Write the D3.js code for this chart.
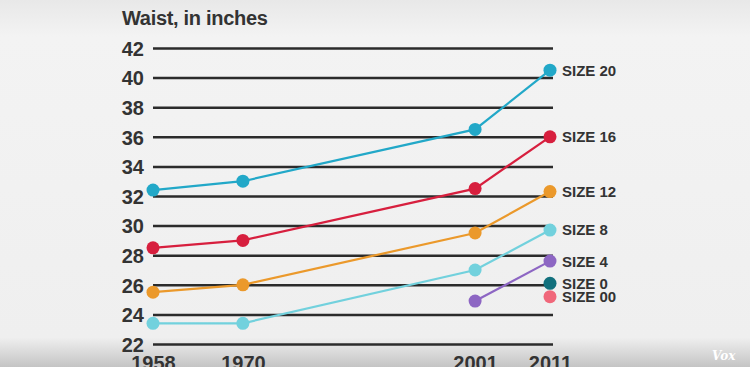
<!DOCTYPE html>
<html>
<head>
<meta charset="utf-8">
<script src="https://cdn.jsdelivr.net/npm/d3@7"></script>
<style>
  body { margin: 0; background: #efefef; }
  svg { display: block; font-family: "Liberation Sans", Arial, sans-serif; }
</style>
</head>
<body>
<div id="chart"></div>
<script>
// waist sizes over the years, in inches
const years = [1958, 1970, 2001, 2011];
const size20 = [32.4, 33.0, 36.5, 40.5];
const size16 = [28.5, 29.0, 32.5, 36.0];
const size12 = [25.5, 26.0, 29.5, 32.3];
const size8 = [23.4, 23.4, 27.0, 29.7];
const size4 = [null, null, 24.9, 27.6];
const size0 = [null, null, null, 26.1];
const size00 = [null, null, null, 25.2];
const yTicks = [22, 24, 26, 28, 30, 32, 34, 36, 38, 40, 42];

const series = [
    { name: 'SIZE 20', values: size20, color: '#22a8c8' },
    { name: 'SIZE 16', values: size16, color: '#d71f3e' },
    { name: 'SIZE 12', values: size12, color: '#eb992b' },
    { name: 'SIZE 8', values: size8, color: '#72d1dd' },
    { name: 'SIZE 4', values: size4, color: '#8d66c3' },
    { name: 'SIZE 0', values: size0, color: '#12707d' },
    { name: 'SIZE 00', values: size00, color: '#f0677a' }
];

const width = 750, height = 367;

const svg = d3.select('#chart')
    .append('svg')
    .attr('width', width)
    .attr('height', height);

// paper-ish background, darker towards the bottom edge
const defs = svg.append('defs');
const grad = defs.append('linearGradient')
    .attr('id', 'bg')
    .attr('x1', 0).attr('y1', 0).attr('x2', 0).attr('y2', 1);
grad.append('stop').attr('offset', '0%').attr('stop-color', '#e8e8e8');
grad.append('stop').attr('offset', '10%').attr('stop-color', '#f3f3f3');
grad.append('stop').attr('offset', '92%').attr('stop-color', '#efefef');
grad.append('stop').attr('offset', '100%').attr('stop-color', '#c4c4c4');
svg.append('rect').attr('width', width).attr('height', height).attr('fill', 'url(#bg)');

const x = d3.scaleLinear().domain([1958, 2011]).range([153, 550]);
const y = d3.scaleLinear().domain([22, 42]).range([344, 48]);

// gridlines + y labels
const yAxis = d3.axisLeft(y)
    .tickValues(yTicks)
    .tickSize(-400)
    .tickPadding(10);

const gy = svg.append('g')
    .attr('transform', 'translate(153,0)')
    .call(yAxis);
gy.select('.domain').remove();
gy.selectAll('.tick line')
    .attr('x1', 0).attr('x2', 400)
    .attr('stroke', '#2b2b2b')
    .attr('stroke-width', 2.5);
gy.selectAll('.tick text')
    .attr('x', -9)
    .attr('dy', '0.36em')
    .attr('fill', '#333')
    .style('font-size', '20px')
    .style('font-weight', 'bold');

// x labels (cut off by the bottom edge, as in the reference)
const xAxis = d3.axisBottom(x)
    .tickValues(years)
    .tickFormat(d3.format('d'))
    .tickSize(0)
    .tickPadding(0);
const gx = svg.append('g')
    .attr('transform', 'translate(0,352)')
    .call(xAxis);
gx.select('.domain').remove();
gx.selectAll('.tick text')
    .attr('dy', '0.9em')
    .attr('fill', '#333')
    .style('font-size', '20px')
    .style('font-weight', 'bold');

// title
svg.append('text')
    .attr('x', 122)
    .attr('y', 25)
    .attr('fill', '#333')
    .style('font-size', '20px')
    .style('font-weight', 'bold')
    .style('letter-spacing', '-0.3px')
    .text('Waist, in inches');

const line = d3.line()
    .defined(d => d.v !== null)
    .x(d => x(d.year))
    .y(d => y(d.v));

series.forEach(s => {
    const pts = s.values.map((v, i) => ({ year: years[i], v: v }));
    const g = svg.append('g');
    g.append('path')
        .datum(pts)
        .attr('d', line)
        .attr('fill', 'none')
        .attr('stroke', s.color)
        .attr('stroke-width', 2.2);
    g.selectAll('circle')
        .data(pts.filter(d => d.v !== null))
        .enter()
        .append('circle')
        .attr('cx', d => x(d.year))
        .attr('cy', d => y(d.v))
        .attr('r', 6.5)
        .attr('fill', s.color);
    const last = pts[pts.length - 1];
    g.append('text')
        .attr('x', x(last.year) + 12)
        .attr('y', y(last.v))
        .attr('dy', '0.36em')
        .attr('fill', '#333')
        .style('font-size', '15px')
        .style('font-weight', 'bold')
        .text(s.name);
});

// watermark
svg.append('text')
    .attr('x', 712)
    .attr('y', 360)
    .attr('fill', '#ffffff')
    .style('font-family', '"DejaVu Serif", serif')
    .style('font-size', '12px')
    .style('font-weight', 'bold')
    .style('font-style', 'italic')
    .text('Vox');
</script>
</body>
</html>
